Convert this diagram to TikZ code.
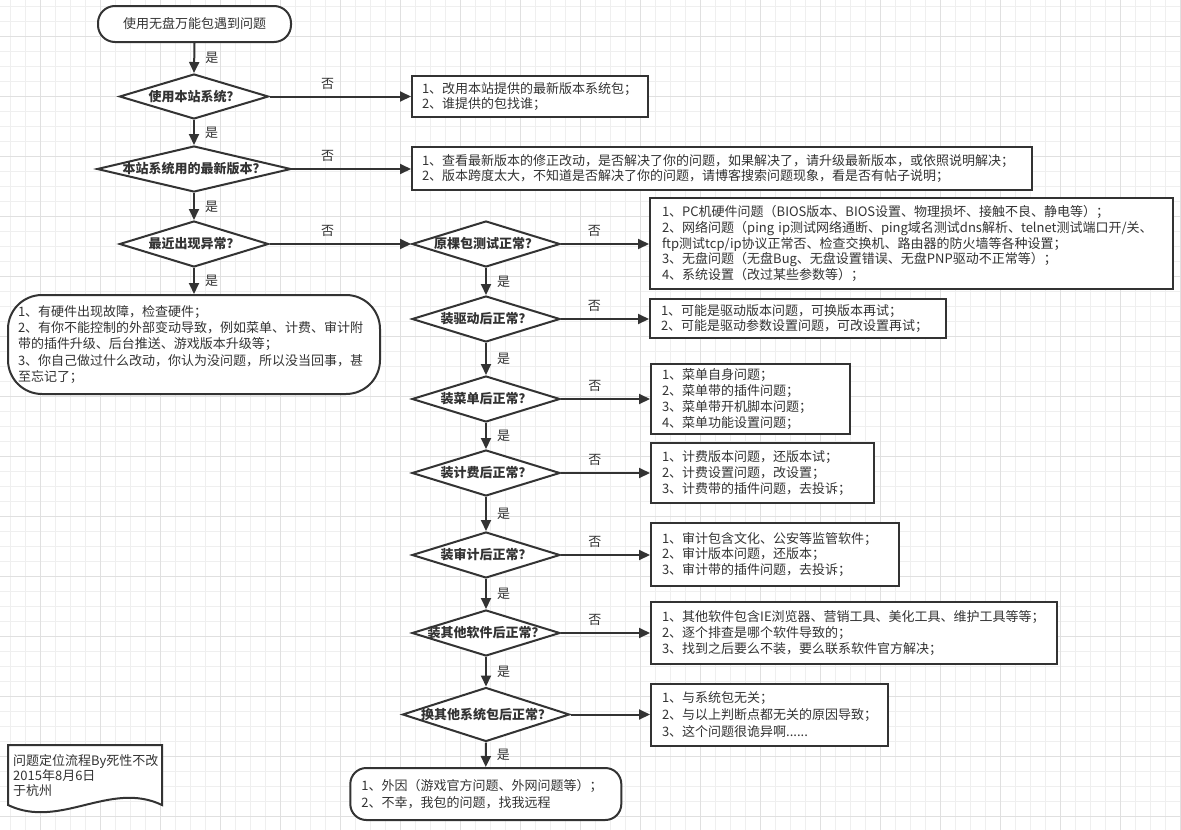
\documentclass[tikz,border=0pt]{standalone}
\usepackage{fontspec}
\setmainfont{Noto Sans CJK SC}
\usetikzlibrary{shapes.geometric,arrows.meta}
\definecolor{ln}{HTML}{333333}
\definecolor{gmin}{HTML}{EFEFEF}
\definecolor{gmaj}{HTML}{E0E0E0}
\begin{document}
\begin{tikzpicture}[x=1pt,y=-1pt,
  font=\fontsize{13}{15.7}\selectfont, text=ln,
  dec/.style={diamond, draw=ln, line width=2pt, fill=white, inner sep=0pt},
  dtext/.style={font=\fontsize{13}{15}\selectfont\bfseries, text=ln},
  box/.style={rectangle, draw=ln, line width=2pt, fill=white, inner xsep=10pt, inner ysep=0pt, align=left},
  term/.style={rectangle, draw=ln, line width=2pt, fill=white, inner xsep=10pt, inner ysep=0pt, align=left},
  arr/.style={draw=ln, line width=2pt, -{Triangle[length=11pt,width=10pt]}},
  yes/.style={anchor=west, inner sep=0pt, xshift=10pt},
  no/.style={inner sep=0pt, yshift=13pt}]
\useasboundingbox (0,0) rectangle (1181,830);
\fill[white] (0,0) rectangle (1181,830);
% grid
\foreach \x in {10,25,...,1180} \draw[gmin, line width=1pt] (\x,0) -- (\x,830);
\foreach \y in {6.7,21.7,...,830} \draw[gmin, line width=1pt] (0,\y) -- (1181,\y);
\foreach \x in {40,100,...,1180} \draw[gmaj, line width=1pt] (\x,0) -- (\x,830);
\foreach \y in {36.7,96.7,...,830} \draw[gmaj, line width=1pt] (0,\y) -- (1181,\y);

% start
\node[rectangle, draw=ln, line width=2pt, fill=white, rounded corners=17pt,
  minimum width=193pt, minimum height=36pt] (start) at (194.5,24) {使用无盘万能包遇到问题};

% left column diamonds
\node[dec, minimum width=149pt, minimum height=45pt, label={[dtext]center:使用本站系统？}] (d1) at (194,96.5) {};
\node[dec, minimum width=194pt, minimum height=46pt, label={[dtext]center:本站系统用的最新版本？}] (d2) at (194,169) {};
\node[dec, minimum width=149pt, minimum height=46pt, label={[dtext]center:最近出现异常？}] (d3) at (194,244) {};

% right column diamonds
\node[dec, minimum width=148pt, minimum height=46pt, label={[dtext]center:原棵包测试正常？}] (d4) at (486,244) {};
\node[dec, minimum width=148pt, minimum height=46pt, label={[dtext]center:装驱动后正常？}] (d5) at (486,319) {};
\node[dec, minimum width=148pt, minimum height=46pt, label={[dtext]center:装菜单后正常？}] (d6) at (486,399) {};
\node[dec, minimum width=148pt, minimum height=46pt, label={[dtext]center:装计费后正常？}] (d7) at (486,473) {};
\node[dec, minimum width=148pt, minimum height=46pt, label={[dtext]center:装审计后正常？}] (d8) at (486,555) {};
\node[dec, minimum width=148pt, minimum height=46pt, label={[dtext]center:装其他软件后正常？}] (d9) at (486,633) {};
\node[dec, minimum width=167pt, minimum height=54pt, label={[dtext]center:换其他系统包后正常？}] (d10) at (486,714.5) {};

% boxes
\node[box, text width=216pt, minimum height=41pt] (b1) at (530,96.5)
  {1、改用本站提供的最新版本系统包；\\2、谁提供的包找谁；};
\node[box, text width=600pt, minimum height=43pt] (b2) at (722,168.5)
  {1、查看最新版本的修正改动，是否解决了你的问题，如果解决了，请升级最新版本，或依照说明解决；\\2、版本跨度太大，不知道是否解决了你的问题，请博客搜索问题现象，看是否有帖子说明；};
\node[box, text width=499pt, inner xsep=12pt, minimum height=91pt] (b3) at (911.5,243.5)
  {1、PC机硬件问题（BIOS版本、BIOS设置、物理损坏、接触不良、静电等）；\\2、网络问题（ping~ip测试网络通断、ping域名测试dns解析、telnet测试端口开/关、\\ftp测试tcp/ip协议正常否、检查交换机、路由器的防火墙等各种设置；\\3、无盘问题（无盘Bug、无盘设置错误、无盘PNP驱动不正常等）；\\4、系统设置（改过某些参数等）；};
\node[box, text width=274pt, inner xsep=11pt, minimum height=39pt] (b4) at (798,318.5)
  {1、可能是驱动版本问题，可换版本再试；\\2、可能是驱动参数设置问题，可改设置再试；};
\node[box, text width=177pt, inner xsep=11pt, minimum height=70pt, font=\fontsize{13}{16}\selectfont] (b5) at (750.5,399)
  {1、菜单自身问题；\\2、菜单带的插件问题；\\3、菜单带开机脚本问题；\\4、菜单功能设置问题；};
\node[box, text width=201pt, inner xsep=11pt, minimum height=60pt, font=\fontsize{13}{16}\selectfont] (b6) at (762.5,473)
  {1、计费版本问题，还版本试；\\2、计费设置问题，改设置；\\3、计费带的插件问题，去投诉；};
\node[box, text width=226pt, inner xsep=11pt, minimum height=63pt] (b7) at (775,554.5)
  {1、审计包含文化、公安等监管软件；\\2、审计版本问题，还版本；\\3、审计带的插件问题，去投诉；};
\node[box, text width=384pt, inner xsep=11pt, minimum height=62pt] (b8) at (854,633)
  {1、其他软件包含IE浏览器、营销工具、美化工具、维护工具等等；\\2、逐个排查是哪个软件导致的；\\3、找到之后要么不装，要么联系软件官方解决；};
\node[box, text width=215pt, inner xsep=11pt, minimum height=62pt, font=\fontsize{13}{17}\selectfont] (b9) at (769.5,715)
  {1、与系统包无关；\\2、与以上判断点都无关的原因导致；\\3、这个问题很诡异啊......};

% left terminal
\node[term, rounded corners=34pt, text width=352pt, minimum height=99pt, font=\fontsize{13}{16.25}\selectfont] (l1) at (194,344.5)
  {1、有硬件出现故障，检查硬件；\\2、有你不能控制的外部变动导致，例如菜单、计费、审计附\\带的插件升级、后台推送、游戏版本升级等；\\3、你自己做过什么改动，你认为没问题，所以没当回事，甚\\至忘记了；};

% end terminal
\node[term, rounded corners=16pt, text width=249pt, inner xsep=11pt, minimum height=52pt, font=\fontsize{13}{16.6}\selectfont] (end) at (485.8,794)
  {1、外因（游戏官方问题、外网问题等）；\\2、不幸，我包的问题，找我远程};

% note (document shape)
\draw[draw=ln, line width=2pt, fill=white] (8,745) -- (162,745) -- (162,805)
  .. controls (110,780) and (60,830) .. (8,805) -- cycle;
\node[anchor=west, align=left, inner sep=0pt, font=\fontsize{13}{15}\selectfont] (note) at (13,776)
  {问题定位流程By死性不改\\2015年8月6日\\于杭州};

% connectors: left column
\draw[arr] (start.south) -- node[yes]{是} (d1.north);
\draw[arr] (d1.south) -- node[yes]{是} (d2.north);
\draw[arr] (d2.south) -- node[yes]{是} (d3.north);
\draw[arr] (d3.south) -- node[yes]{是} (l1.north);
\draw[arr] (d1.east) -- node[no, pos=0.41]{否} (d1.east -| b1.west);
\draw[arr] (d2.east) -- node[no, pos=0.30]{否} (d2.east -| b2.west);
\draw[arr] (d3.east) -- node[no, pos=0.41]{否} (d4.west);

% connectors: right column
\draw[arr] (d4.south) -- node[yes]{是} (d5.north);
\draw[arr] (d5.south) -- node[yes]{是} (d6.north);
\draw[arr] (d6.south) -- node[yes]{是} (d7.north);
\draw[arr] (d7.south) -- node[yes]{是} (d8.north);
\draw[arr] (d8.south) -- node[yes]{是} (d9.north);
\draw[arr] (d9.south) -- node[yes]{是} (d10.north);
\draw[arr] (d10.south) -- node[yes]{是} (end.north);
\draw[arr] (d4.east) -- node[no, pos=0.38]{否} (d4.east -| b3.west);
\draw[arr] (d5.east) -- node[no, pos=0.38]{否} (d5.east -| b4.west);
\draw[arr] (d6.east) -- node[no, pos=0.38]{否} (d6.east -| b5.west);
\draw[arr] (d7.east) -- node[no, pos=0.38]{否} (d7.east -| b6.west);
\draw[arr] (d8.east) -- node[no, pos=0.38]{否} (d8.east -| b7.west);
\draw[arr] (d9.east) -- node[no, pos=0.38]{否} (d9.east -| b8.west);
\draw[arr] (d10.east) -- (d10.east -| b9.west);
\end{tikzpicture}
\end{document}
